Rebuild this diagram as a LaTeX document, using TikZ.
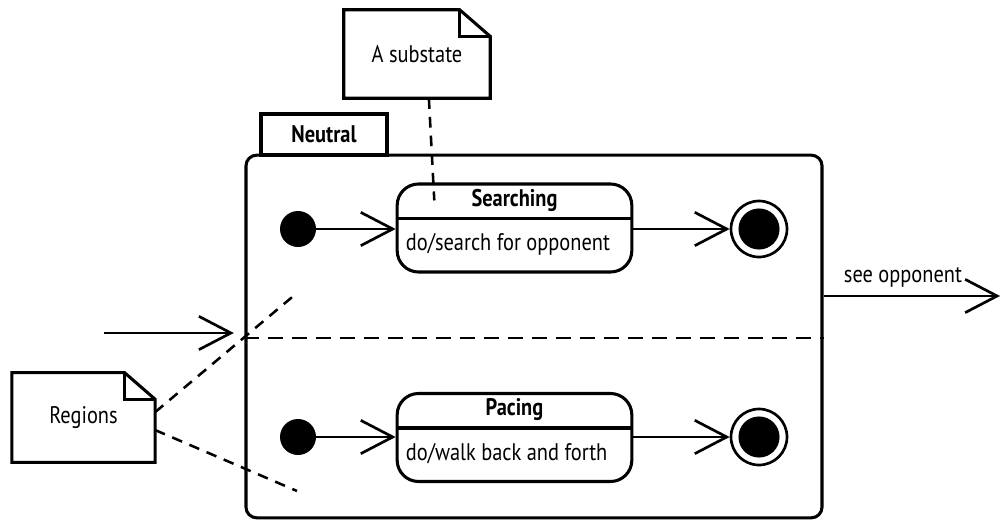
\documentclass[tikz,border=0pt]{standalone}
\usepackage{fontspec}
\setmainfont{PT Sans}[FakeStretch=0.85]
\usetikzlibrary{arrows.meta,positioning}
\tikzset{
  umlline/.style={line width=2.3pt},
  flow/.style={line width=2pt,-{Straight Barb[length=24pt,width=25pt]}},
  noteline/.style={line width=1.9pt,dash pattern=on 8pt off 6pt},
  regionline/.style={line width=2pt,dash pattern=on 11pt off 7pt},
  statebox/.style={draw,umlline,rounded corners=16pt,minimum width=176pt,minimum height=66pt},
  initst/.style={circle,fill,minimum size=27pt,inner sep=0pt},
  finalst/.style={circle,draw,line width=2pt,minimum size=42pt,inner sep=0pt,
    path picture={\fill (path picture bounding box.center) circle (15.4pt);}},
  bold/.style={font=\fontsize{18}{21}\selectfont\bfseries}
}
\begin{document}
\begin{tikzpicture}[x=0.75pt,y=-0.75pt,font=\fontsize{18}{21}\selectfont]
  \useasboundingbox (0,0) rectangle (1002,521);
  % composite state and its tab
  \node[draw,umlline,rounded corners=8pt,minimum width=432pt,minimum height=272pt] (neutral) at (534,336.5) {};
  \node[draw,umlline,bold,minimum width=94.5pt,minimum height=30.75pt] (tab) at (324,134.5) {Neutral};
  \draw[regionline] ([yshift=-1pt]neutral.west) -- ([yshift=-1pt]neutral.east);
  % upper region
  \node[initst] (i1) at (298,229) {};
  \node[statebox] (search) at (514.5,228) {};
  \draw[umlline] ([yshift=-27pt]search.north west) -- ([yshift=-27pt]search.north east);
  \node[bold,inner sep=0pt] (searchname) at ([yshift=-13.5pt]search.north) {Searching};
  \node[anchor=west,inner sep=0pt] (searchdo) at ([xshift=7.5pt,yshift=-12pt]search.west) {do/search for opponent};
  \node[finalst] (f1) at (759,229) {};
  \draw[flow] (i1) -- (search.west |- i1);
  \draw[flow] (search.east |- f1) -- (f1);
  % lower region
  \node[initst] (i2) at (298,437) {};
  \node[statebox] (pace) at (514.5,437.5) {};
  \draw[umlline] ([yshift=-27pt]pace.north west) -- ([yshift=-27pt]pace.north east);
  \node[bold,inner sep=0pt] (pacename) at ([yshift=-13.5pt]pace.north) {Pacing};
  \node[anchor=west,inner sep=0pt] (pacedo) at ([xshift=7.5pt,yshift=-12pt]pace.west) {do/walk back and forth};
  \node[finalst] (f2) at (759,437) {};
  \draw[flow] (i2) -- (pace.west |- i2);
  \draw[flow] (pace.east |- f2) -- (f2);
  % notes
  \node[minimum width=109.5pt,minimum height=66pt] (sub) at (417,54) {A substate};
  \node[minimum width=107pt,minimum height=67pt] (reg) at (83.5,417.5) {Regions};
  \foreach \n in {sub,reg} {
    \draw[umlline] (\n.south west) -- (\n.north west) -- ([xshift=-23pt]\n.north east)
      -- ([yshift=-20pt]\n.north east) -- (\n.south east) -- cycle;
    \draw[umlline] ([xshift=-23pt]\n.north east) |- ([yshift=-20pt]\n.north east);
  }
  \draw[noteline] (sub.-75) -- ([xshift=29pt,yshift=-13.5pt]search.north west);
  \coordinate (rtop) at (297,293);
  \coordinate (rbot) at (297,491);
  \draw[noteline] ([yshift=4pt]reg.east) -- (rtop);
  \draw[noteline] ([yshift=-9.4pt]reg.east) -- (rbot);
  % transitions in and out
  \coordinate (entry) at (104,333);
  \draw[flow,shorten >=8pt] (entry) -- (entry -| neutral.west);
  \coordinate (exit) at (1000,296);
  \draw[flow] (neutral.east |- exit) -- node[above=2pt,pos=0.45] (seeop) {see opponent} (exit);
\end{tikzpicture}
\end{document}
